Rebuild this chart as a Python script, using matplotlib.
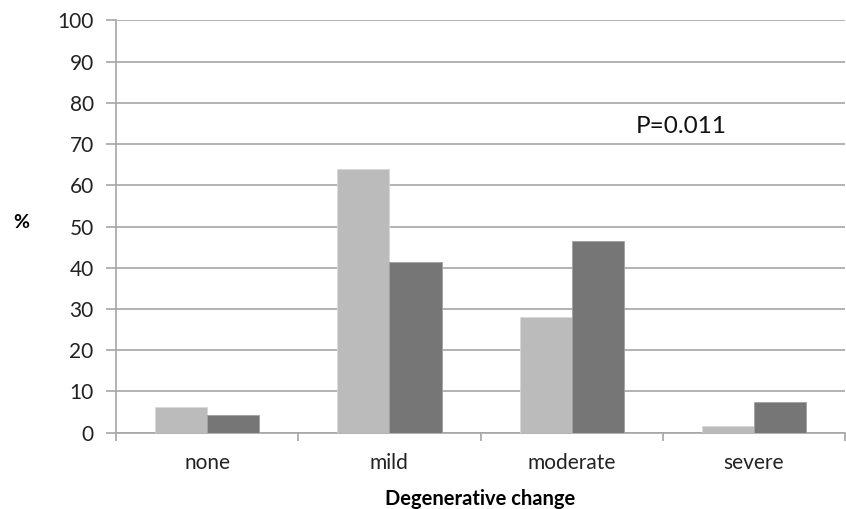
import matplotlib.pyplot as plt
import numpy as np

categories = ["none", "mild", "moderate", "severe"]
group1 = [6.2, 64.0, 28.0, 1.5]
group2 = [4.4, 41.3, 46.6, 7.4]
yticks = list(range(0, 101, 10))

plt.rcParams['font.family'] = ['Lato', 'DejaVu Sans']

fig = plt.figure(figsize=(8.46, 5.09), dpi=100)
ax = fig.add_axes([0.137, 0.150, 0.862, 0.810])

x = np.arange(len(categories))
w = 0.286
ax.bar(x - w/2, group1, w, color='#bbbbbb', edgecolor='#d8d8d8', linewidth=0.6, zorder=3)
ax.bar(x + w/2, group2, w, color='#767676', edgecolor='#a0a0a0', linewidth=0.6, zorder=3)

ax.set_xlim(-0.5, len(categories) - 0.5)
ax.set_ylim(0, 100)
ax.set_yticks(yticks)
ax.yaxis.grid(True, color='#a6a6a6', linewidth=1.2, zorder=0)
ax.set_axisbelow(True)

# category labels without tick marks, boundaries with tick marks
ax.set_xticks(x)
ax.set_xticklabels(categories)
ax.set_xticks(np.arange(-0.5, len(categories)), minor=True)
ax.tick_params(axis='x', which='major', length=0, pad=15, labelsize=15, colors='#222222')
ax.tick_params(axis='x', which='minor', length=6, width=1.2, color='#a6a6a6', direction='out')
ax.tick_params(axis='y', length=7, width=1.2, color='#a6a6a6', pad=9, labelsize=15, labelcolor='#222222')

for s in ['top', 'right']:
    ax.spines[s].set_visible(False)
for s in ['left', 'bottom']:
    ax.spines[s].set_color('#a6a6a6')
    ax.spines[s].set_linewidth(1.2)

ax.text(2.35, 72.7, "P=0.011", fontsize=17.5, color='#111111', ha='left', va='baseline')
fig.text(0.025, 0.563, "%", fontsize=14, fontweight='bold', ha='center', va='center')
ax.set_xlabel("Degenerative change", fontsize=14.5, fontweight='bold', labelpad=11)

fig.savefig("out.png", dpi=100)
